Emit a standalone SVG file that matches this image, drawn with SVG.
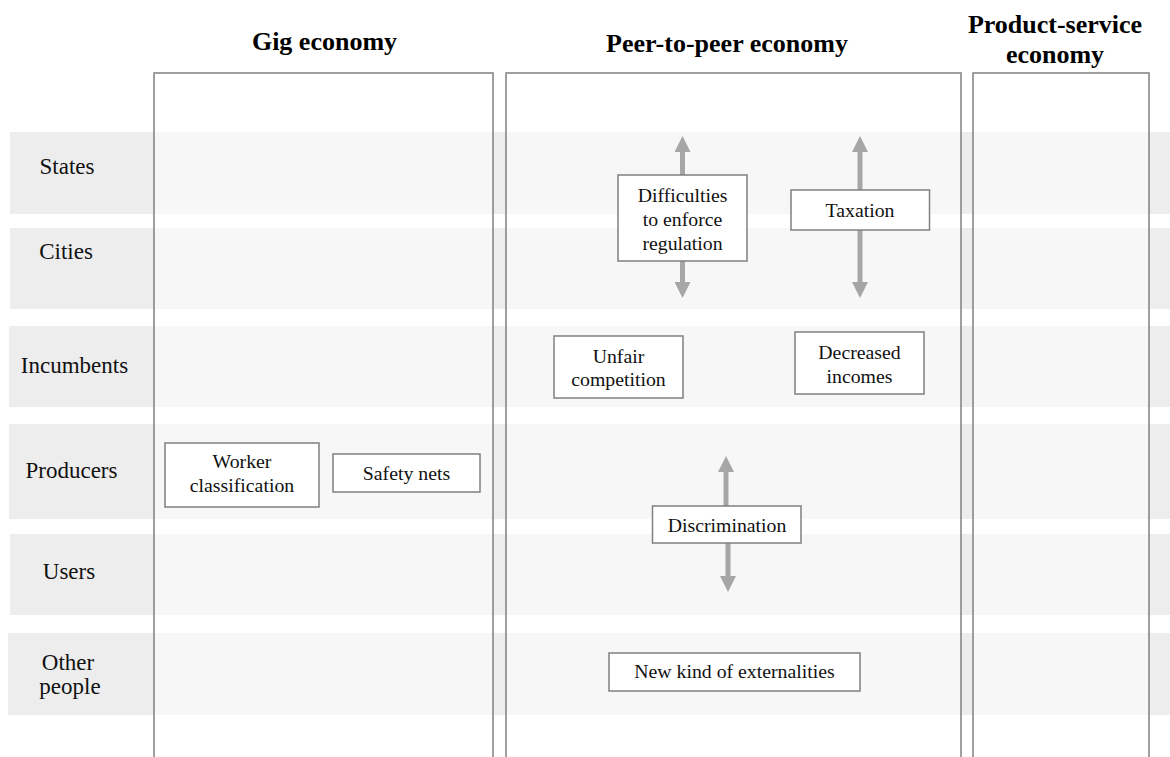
<svg xmlns="http://www.w3.org/2000/svg" width="1170" height="757" viewBox="0 0 1170 757">
<style>
.band{fill:#ededed}
.col{fill:#ffffff;fill-opacity:0.55;stroke:#808080;stroke-width:1.5}
.hdr{font-weight:bold;font-size:26px;fill:#000;text-anchor:middle}
.row{font-size:23px;fill:#111;text-anchor:middle}
.box{fill:#ffffff;stroke:#808080;stroke-width:1.5}
.lbl{font-size:19.8px;fill:#111;text-anchor:middle}
.arr{stroke:#a6a6a6;stroke-width:5;fill:none;marker-end:url(#head)}
</style>
<defs>
<marker id="head" markerUnits="userSpaceOnUse" markerWidth="16" markerHeight="16" viewBox="0 0 16 16" refX="1" refY="8" orient="auto">
<path d="M0,0 L16,8 L0,16 z" fill="#a6a6a6"/>
</marker>
</defs>
<rect width="1170" height="757" fill="#ffffff"/>
<g id="bands">
<rect class="band" x="10" y="132" width="1160" height="82"/>
<rect class="band" x="10" y="228" width="1160" height="81"/>
<rect class="band" x="9" y="326" width="1161" height="81"/>
<rect class="band" x="9" y="424" width="1161" height="95"/>
<rect class="band" x="10" y="534" width="1160" height="81"/>
<rect class="band" x="8" y="633" width="1162" height="82"/>
</g>
<g font-family="Liberation Serif, Tinos, Times New Roman, DejaVu Serif, serif">
<g id="row-labels">
<text class="row" x="67" y="174">States</text>
<text class="row" x="66" y="259">Cities</text>
<text class="row" x="74.5" y="373">Incumbents</text>
<text class="row" x="71.5" y="478">Producers</text>
<text class="row" x="69" y="579">Users</text>
<text class="row" x="68"><tspan x="68" y="670">Other</tspan><tspan x="70" y="694">people</tspan></text>
</g>
<g id="columns">
<g id="col-gig"><rect class="col" x="154" y="73" width="339" height="700"/><text class="hdr" x="324.5" y="50">Gig economy</text></g>
<g id="col-p2p"><rect class="col" x="506" y="73" width="455" height="700"/><text class="hdr" x="727" y="52">Peer-to-peer economy</text></g>
<g id="col-pss"><rect class="col" x="973" y="73" width="176" height="700"/><text class="hdr" x="1055"><tspan x="1055" y="33">Product-service</tspan><tspan x="1055" y="63">economy</tspan></text></g>
</g>
<g id="connectors">
<line class="arr" x1="682.5" y1="175" x2="682.5" y2="151"/>
<line class="arr" x1="682.5" y1="261" x2="682.5" y2="283"/>
<line class="arr" x1="860" y1="190" x2="860" y2="151"/>
<line class="arr" x1="860" y1="230" x2="860" y2="283"/>
<line class="arr" x1="726" y1="506" x2="726" y2="471"/>
<line class="arr" x1="728" y1="543" x2="728" y2="577"/>
</g>
<g id="node-difficulties"><rect class="box" x="618" y="175" width="129" height="86"/><text class="lbl"><tspan x="682.5" y="202">Difficulties</tspan><tspan x="682.5" y="226">to enforce</tspan><tspan x="682.5" y="250">regulation</tspan></text></g>
<g id="node-taxation"><rect class="box" x="791" y="190" width="138.5" height="40"/><text class="lbl" x="860" y="217">Taxation</text></g>
<g id="node-unfair"><rect class="box" x="554" y="336" width="129" height="62"/><text class="lbl"><tspan x="618.5" y="363">Unfair</tspan><tspan x="618.5" y="386">competition</tspan></text></g>
<g id="node-decreased"><rect class="box" x="795" y="332" width="129" height="62"/><text class="lbl"><tspan x="859.5" y="359">Decreased</tspan><tspan x="859.5" y="383">incomes</tspan></text></g>
<g id="node-discrimination"><rect class="box" x="652.5" y="506" width="148.5" height="37"/><text class="lbl" x="727" y="532">Discrimination</text></g>
<g id="node-worker"><rect class="box" x="165" y="443" width="154" height="64"/><text class="lbl"><tspan x="242" y="468">Worker</tspan><tspan x="242" y="492">classification</tspan></text></g>
<g id="node-safety"><rect class="box" x="333" y="454" width="147" height="38"/><text class="lbl" x="406.5" y="480">Safety nets</text></g>
<g id="node-externalities"><rect class="box" x="609" y="653" width="251" height="38"/><text class="lbl" x="734.5" y="678">New kind of externalities</text></g>
</g>
</svg>
